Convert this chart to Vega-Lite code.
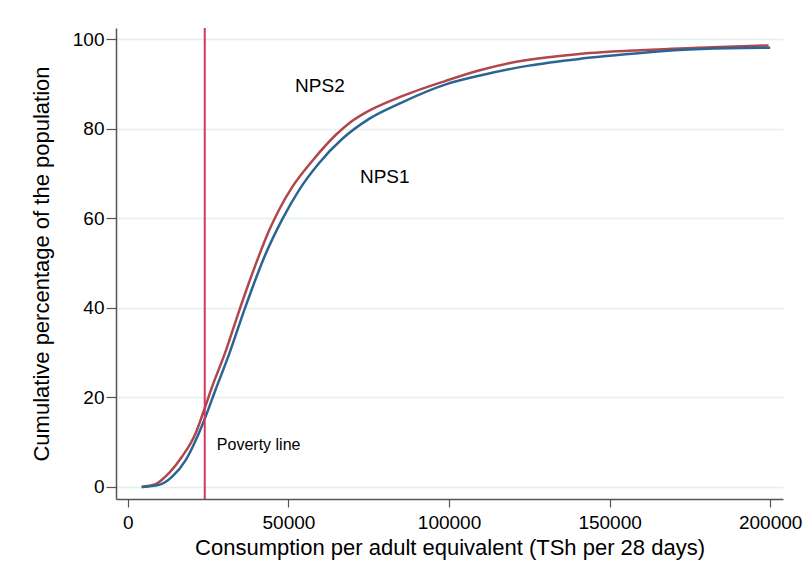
{
  "$schema": "https://vega.github.io/schema/vega-lite/v6.json",
  "width": 667,
  "height": 471,
  "autosize": "none",
  "padding": {"left": 116, "top": 28, "right": 24, "bottom": 84},
  "background": "white",
  "config": {
    "view": {"stroke": null},
    "font": "Liberation Sans",
    "axis": {
      "domainColor": "#555555",
      "domainWidth": 1.5,
      "tickColor": "#555555",
      "tickWidth": 1.2,
      "labelColor": "#000000",
      "titleColor": "#000000",
      "labelFont": "Liberation Sans",
      "titleFont": "Liberation Sans",
      "titleFontWeight": "normal",
      "labelFontSize": 19,
      "titleFontSize": 22
    }
  },
  "layer": [
    {
      "data": {
        "values": [
          {"series": "NPS2", "x": 4300, "y": 0},
          {"series": "NPS2", "x": 8600, "y": 0.6},
          {"series": "NPS2", "x": 12800, "y": 3.1},
          {"series": "NPS2", "x": 16900, "y": 6.8},
          {"series": "NPS2", "x": 21100, "y": 12.0},
          {"series": "NPS2", "x": 23400, "y": 16.5},
          {"series": "NPS2", "x": 26300, "y": 22.5},
          {"series": "NPS2", "x": 30400, "y": 30.2},
          {"series": "NPS2", "x": 34300, "y": 38.6},
          {"series": "NPS2", "x": 37700, "y": 45.6},
          {"series": "NPS2", "x": 40800, "y": 51.6},
          {"series": "NPS2", "x": 44000, "y": 57.3},
          {"series": "NPS2", "x": 47000, "y": 61.8},
          {"series": "NPS2", "x": 51200, "y": 67.0},
          {"series": "NPS2", "x": 57400, "y": 72.8},
          {"series": "NPS2", "x": 64700, "y": 78.6},
          {"series": "NPS2", "x": 69000, "y": 81.3},
          {"series": "NPS2", "x": 74000, "y": 83.6},
          {"series": "NPS2", "x": 84400, "y": 87.0},
          {"series": "NPS2", "x": 99000, "y": 90.7},
          {"series": "NPS2", "x": 109300, "y": 93.0},
          {"series": "NPS2", "x": 119700, "y": 94.8},
          {"series": "NPS2", "x": 140500, "y": 96.7},
          {"series": "NPS2", "x": 161200, "y": 97.6},
          {"series": "NPS2", "x": 182000, "y": 98.2},
          {"series": "NPS2", "x": 199500, "y": 98.6},
          {"series": "NPS1", "x": 4300, "y": 0},
          {"series": "NPS1", "x": 9700, "y": 0.45},
          {"series": "NPS1", "x": 13800, "y": 2.3},
          {"series": "NPS1", "x": 18000, "y": 6.0},
          {"series": "NPS1", "x": 22100, "y": 12.0},
          {"series": "NPS1", "x": 24200, "y": 15.7},
          {"series": "NPS1", "x": 27300, "y": 21.7},
          {"series": "NPS1", "x": 31500, "y": 29.6},
          {"series": "NPS1", "x": 36300, "y": 39.6},
          {"series": "NPS1", "x": 42400, "y": 51.2},
          {"series": "NPS1", "x": 48100, "y": 59.8},
          {"series": "NPS1", "x": 53300, "y": 66.3},
          {"series": "NPS1", "x": 59500, "y": 72.3},
          {"series": "NPS1", "x": 66700, "y": 77.7},
          {"series": "NPS1", "x": 75100, "y": 82.2},
          {"series": "NPS1", "x": 85400, "y": 85.9},
          {"series": "NPS1", "x": 99000, "y": 89.9},
          {"series": "NPS1", "x": 110400, "y": 92.0},
          {"series": "NPS1", "x": 124900, "y": 94.1},
          {"series": "NPS1", "x": 140500, "y": 95.6},
          {"series": "NPS1", "x": 156100, "y": 96.7},
          {"series": "NPS1", "x": 171600, "y": 97.6},
          {"series": "NPS1", "x": 187200, "y": 98.0},
          {"series": "NPS1", "x": 200000, "y": 98.1}
        ]
      },
      "mark": {"type": "line", "strokeWidth": 2.5, "interpolate": "monotone"},
      "encoding": {
        "x": {
          "field": "x",
          "type": "quantitative",
          "scale": {"domain": [-3700, 204000], "nice": false, "zero": false},
          "axis": {
            "title": "Consumption per adult equivalent (TSh per 28 days)",
            "values": [0, 50000, 100000, 150000, 200000],
            "format": "d",
            "grid": false,
            "tickSize": 8,
            "labelPadding": 6,
            "titlePadding": 5,
            "labelFlush": false
          }
        },
        "y": {
          "field": "y",
          "type": "quantitative",
          "scale": {"domain": [-2.7, 102.5], "nice": false, "zero": false},
          "axis": {
            "title": "Cumulative percentage of the population",
            "values": [0, 20, 40, 60, 80, 100],
            "grid": true,
            "gridColor": "#e6eff0",
            "gridWidth": 1.5,
            "tickSize": 10,
            "labelPadding": 2,
            "titlePadding": 19,
            "labelFlush": false
          }
        },
        "color": {
          "field": "series",
          "type": "nominal",
          "scale": {"domain": ["NPS1", "NPS2"], "range": ["#2b6593", "#b0474d"]},
          "legend": null
        },
        "order": {"field": "x", "type": "quantitative"}
      }
    },
    {
      "data": {"values": [{"x": 23933}]},
      "mark": {"type": "rule", "color": "#d2385f", "strokeWidth": 2},
      "encoding": {
        "x": {"field": "x", "type": "quantitative"}
      }
    },
    {
      "data": {
        "values": [
          {"x": 59800, "y": 89.5, "label": "NPS2"},
          {"x": 80000, "y": 69.2, "label": "NPS1"}
        ]
      },
      "mark": {"type": "text", "fontSize": 19, "align": "center", "baseline": "middle", "color": "#000000"},
      "encoding": {
        "x": {"field": "x", "type": "quantitative"},
        "y": {"field": "y", "type": "quantitative"},
        "text": {"field": "label"}
      }
    },
    {
      "data": {
        "values": [
          {"x": 27700, "y": 9.3, "label": "Poverty line"}
        ]
      },
      "mark": {"type": "text", "fontSize": 16, "align": "left", "baseline": "middle", "color": "#000000"},
      "encoding": {
        "x": {"field": "x", "type": "quantitative"},
        "y": {"field": "y", "type": "quantitative"},
        "text": {"field": "label"}
      }
    }
  ]
}
